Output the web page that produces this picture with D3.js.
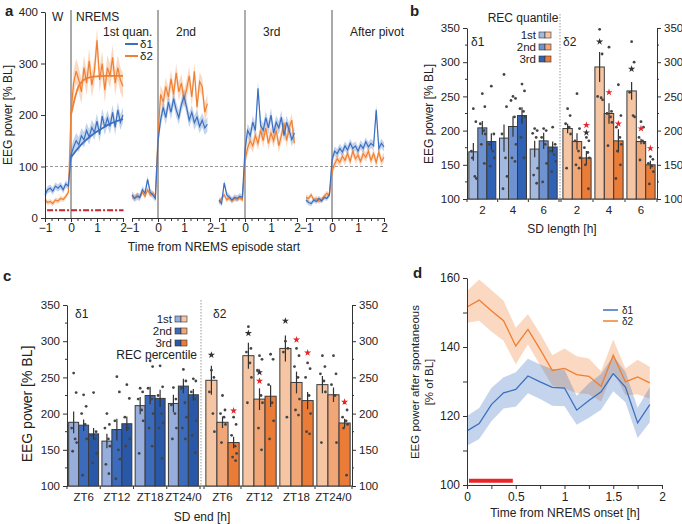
<!DOCTYPE html>
<html><head><meta charset="utf-8">
<script src="https://cdn.jsdelivr.net/npm/d3@7"></script>
<style>
body{margin:0;background:#fff}
svg text{font-family:"Liberation Sans",Arial,sans-serif;fill:#222}
</style></head>
<body><svg width="682" height="524"></svg>
<script>
// ---------------- DATA ----------------
// Panel a: time axis (h from NREMS episode start)
const aTime = [-1,-0.9,-0.8,-0.7,-0.6,-0.5,-0.4,-0.3,-0.2,-0.1,0,0.1,0.2,0.3,0.4,0.5,0.6,0.7,0.8,0.9,1,1.1,1.2,1.3,1.4,1.5,1.6,1.7,1.8,1.9,2];
const aTicksX = [-1,-0.75,-0.5,-0.25,0,0.25,0.5,0.75,1,1.25,1.5,1.75,2];
const aTicksY = [0,100,200,300,400];
const aTitles = ["1st quan.","2nd","3rd","After pivot"];
const a1D1 = [45,55,58,52,62,58,63,55,66,62, 122,138,150,142,160,152,170,157,176,166,188,162,198,176,194,178,205,176,210,186,200];
const a1D2 = [35,30,32,28,35,33,38,36,42,50, 205,262,285,268,245,292,262,305,258,285,345,268,300,248,292,276,312,262,292,268,256];
const a2D1 = [45,38,42,40,55,48,75,50,45,38, 150,190,215,195,225,205,232,210,195,220,236,215,190,205,185,196,178,190,175,182];
const a2D2 = [42,38,45,40,50,42,55,45,48,42, 160,240,225,255,235,270,240,282,245,262,230,250,276,235,285,215,265,255,205,222];
const a3D1 = [35,28,68,45,40,35,40,38,42,40, 132,170,160,186,170,252,180,170,195,175,200,165,186,175,196,160,186,170,152,165];
const a3D2 = [30,38,45,35,40,33,38,36,40,35, 112,136,150,140,160,145,170,150,175,145,165,150,170,140,160,185,150,175,190,145];
const a4D1 = [35,30,28,35,32,38,33,40,38,45, 112,130,125,135,128,140,132,145,135,140,130,142,135,148,138,145,140,210,135,145,138];
const a4D2 = [40,38,45,35,38,32,36,42,48,44, 90,105,115,108,120,112,125,110,130,115,122,110,125,118,130,112,125,108,128,110,118];
// band half-widths [wake, NREMS] per sub-panel
const aSemD1 = [[7,15],[7,14],[6,13],[5,9]];
const aSemD2 = [[5,24],[5,18],[5,13],[5,9]];
// fitted curves, 1st quantile
const aFitT  = [0,0.25,0.5,0.75,1,1.25,1.5,1.75,2];
const aFitD1 = [118,135,148,159,168,176,183,188,192];
const aFitD2 = [200,258,270,274,275,276,276,276,276];
const aSigT = [-0.92,2.02], aSigV = 15;

// Panel b
const bGroups = ["2","4","6"];
const bTicksY = [100,150,200,250,300,350];
const bD1Mean = [[169,204,184],[189,206,222],[173,185,176]];
const bD1Err  = [[13,10,12],[20,15,12],[12,12,8]];
const bD2Mean = [[203,184,160],[293,225,185],[258,184,150]];
const bD2Err  = [[7,12,10],[22,15,17],[13,4,6]];
const bD1Dots = [
  [[232,213,170,133,130,160],[254,235,210,200,195,180,152],[265,195,180,170,160,148]],
  [[282,235,195,160,133,115],[250,247,244,220,180,160,155],[268,258,232,228,220,190,160]],
  [[203,200,196,190,145,135,123],[203,200,190,180,152,125],[205,180,170,165,155,140]]];
const bD2Dots = [
  [[232,222,210,205,195,145],[254,203,185,170,160,150,145],[190,185,175,168,160,150,115]],
  [[348,312,250,248,245],[322,228,225,220,212,178],[267,222,205,190,180,170,150,130]],
  [[330,300,256,222,220],[213,205,190,185,182,157],[162,158,152,148,140,122]]];
// stars: [series, group, quantile, value, red]
const bStars = [[1,0,2,208,1],[1,0,2,197,0],[1,1,0,330,0],[1,1,1,256,1],[1,1,2,210,1],[1,2,0,290,0],[1,2,1,203,1],[1,2,2,174,1]];

// Panel c
const cGroups = ["ZT6","ZT12","ZT18","ZT24/0"];
const cD1Mean = [[188,184,172],[162,178,186],[211,225,221],[214,238,226]];
const cD1Err  = [[15,8,8],[10,15,10],[12,12,12],[12,10,8]];
const cD2Mean = [[246,188,160],[280,220,224],[290,243,218],[240,226,187]];
const cD2Err  = [[20,8,8],[18,15,15],[18,15,12],[12,10,6]];
const cD1Dots = [
  [[256,229,180,165,160,148],[226,210,200,185,165,115],[229,175,170,165,145,132]],
  [[200,185,180,165,155,130,117],[251,230,190,150,137,110],[240,221,195,180,165,155]],
  [[235,230,220,205,190,145],[273,265,235,220,200,180,155],[266,237,225,200,187,180,138]],
  [[236,220,212,200,180,165],[261,245,235,215,195,180,165],[248,245,230,220,190,170,146]]];
const cD2Dots = [
  [[260,250,230,200,175],[225,205,200,195,185,160],[195,185,170,155,145,140,135]],
  [[320,290,285,270,250,215],[280,275,260,225,215,180,150],[282,275,240,215,190,165]],
  [[300,290,285,195],[290,280,265,250,220,205,198],[270,262,250,225,200,175,172]],
  [[280,265,255,245,230,160],[280,255,240,225,160],[215,205,195,190,185,180,115]]];
const cStars = [[1,0,0,281,0],[1,0,2,204,1],[1,1,0,311,0],[1,1,1,257,0],[1,1,1,245,1],[1,2,0,328,0],[1,2,1,302,1],[1,2,2,284,1],[1,3,2,216,1]];

// Panel d
const dTime = [0,0.125,0.25,0.375,0.5,0.625,0.75,0.875,1,1.125,1.25,1.375,1.5,1.625,1.75,1.875];
const dD1    = [115.7,117.8,123.3,126.7,127.7,131.6,129.9,128.3,128.1,121.7,124.5,127.0,132.3,128.4,118.0,123.3];
const dD1Sem = [4.3,4.5,4.8,4.5,5,5,5,5.3,5.3,4.2,5,5.2,5.1,4.4,4.4,5.1];
const dD2    = [151.6,153.6,150.5,147.6,140.3,145.1,139.3,133.2,133.8,132,131.5,128.6,137.6,129.9,131.3,129.6];
const dD2Sem = [4.6,6,6,5.8,5.3,4.4,4.6,4.4,5.8,5.3,5.2,4.4,4.6,3.9,5,4.6];
const dTicksX = [0,0.25,0.5,0.75,1,1.25,1.5,1.75,2];
const dTicksY = [100,110,120,130,140,150,160];
const dSig = [0.02,0.47], dSigV = 101.2;

// ---------------- DRAWING ----------------
const svg = d3.select("svg");
const FONT = '"Liberation Sans", Arial, sans-serif';
const BLUE = "#3b6fc0", ORANGE = "#f07f31", RED = "#e8262a";
const bBlue = ["#a3b9e0","#6f93d0","#2f62b4"];
const cBlue = ["#97addb","#3c6bbc","#2a58a8"];
const oran  = ["#f6c6a4","#f0a676","#eb7c38"];
const starPath = d3.symbol(d3.symbolStar, 16)();

function label(x, y, s, o = {}) {
  const t = svg.append("text").attr("x", x).attr("y", y).text(s)
    .attr("font-size", o.size || 12).attr("text-anchor", o.anchor || "start");
  if (o.weight) t.attr("font-weight", o.weight);
  if (o.fill) t.style("fill", o.fill);
  if (o.rot) t.attr("transform", `rotate(-90,${x},${y})`);
  return t;
}
function styleAxis(g, size) {
  g.attr("font-family", FONT);
  g.select(".domain").attr("stroke", "#333");
  g.selectAll(".tick line").attr("stroke", "#333");
  g.selectAll(".tick text").attr("font-size", size || 11.5).style("fill", "#222");
}
const isInt = d => Math.abs(d - Math.round(d)) < 1e-9;

// ===== Panel a =====
const aStarts = [45,132,219,306];
const aY = d3.scaleLinear().domain([0,400]).range([218,12]);
const aSubs = [[a1D1,a1D2],[a2D1,a2D2],[a3D1,a3D2],[a4D1,a4D2]];
svg.append("line").attr("x1",45).attr("x2",384).attr("y1",aY(100)).attr("y2",aY(100))
  .attr("stroke","#999").attr("stroke-dasharray","3,2").attr("stroke-width",1);
aSubs.forEach((pair, i) => {
  const x = d3.scaleLinear().domain([-1,2]).range([aStarts[i], aStarts[i] + 78]);
  svg.append("line").attr("x1",x(0)).attr("x2",x(0)).attr("y1",10).attr("y2",218)
    .attr("stroke", i === 2 ? "#9a9a9a" : "#555").attr("stroke-width", i === 2 ? 1.6 : 1);
  const sems = [aSemD1[i], aSemD2[i]];
  const cols = [BLUE, ORANGE];
  const semOf = (k, j) => aTime[j] < 0 ? sems[k][0] : sems[k][1];
  [1,0].forEach(k => {
    const vals = pair[k];
    const area = d3.area().x((d,j) => x(aTime[j]))
      .y0((d,j) => aY(d - semOf(k,j))).y1((d,j) => aY(d + semOf(k,j)));
    svg.append("path").attr("d", area(vals)).attr("fill", cols[k]).attr("opacity", 0.3);
  });
  [1,0].forEach(k => {
    const vals = pair[k];
    const line = d3.line().x((d,j) => x(aTime[j])).y(d => aY(d));
    svg.append("path").attr("d", line(vals)).attr("fill","none").attr("stroke", cols[k]).attr("stroke-width", 1.2);
  });
  if (i === 0) {
    const fl = d3.line().x((d,j) => x(aFitT[j])).y(d => aY(d)).curve(d3.curveBasis);
    svg.append("path").attr("d", fl(aFitD2)).attr("fill","none").attr("stroke", ORANGE).attr("stroke-width", 1.8);
    svg.append("path").attr("d", fl(aFitD1)).attr("fill","none").attr("stroke", BLUE).attr("stroke-width", 1.8);
    svg.append("line").attr("x1", x(aSigT[0])).attr("x2", x(aSigT[1])).attr("y1", aY(aSigV)).attr("y2", aY(aSigV))
      .attr("stroke","#c1272d").attr("stroke-width",2).attr("stroke-dasharray","6,2,2,2");
  }
  const ax = d3.axisBottom(x).tickValues(aTicksX).tickSize(3).tickSizeOuter(0)
    .tickFormat(d => isInt(d) ? d3.format("d")(d) : "");
  const g = svg.append("g").attr("transform","translate(0,218)").call(ax);
  styleAxis(g, 12);
  g.selectAll(".tick line").attr("y2", d => isInt(d) ? 4 : 3);
  g.selectAll(".tick text").attr("dy","0.75em").attr("y", 5);
  label(i === 0 ? 103 : x(0) + 18, 36, aTitles[i], {size: 12});
});
{
  const g = svg.append("g").attr("transform","translate(45,0)")
    .call(d3.axisLeft(aY).tickValues(aTicksY).tickSize(4).tickSizeOuter(0));
  styleAxis(g, 11.5);
}
label(5, 16, "a", {size: 15, weight: "bold"});
label(52, 21, "W", {size: 12});
label(76, 21, "NREMS", {size: 12});
label(12, 115, "EEG power [% BL]", {size: 12, anchor: "middle", rot: true});
label(214, 251, "Time from NREMS episode start", {size: 12, anchor: "middle"});
[[BLUE,44,"δ1"],[ORANGE,56,"δ2"]].forEach(([c,y,s]) => {
  svg.append("line").attr("x1",125).attr("x2",138).attr("y1",y).attr("y2",y).attr("stroke",c).attr("stroke-width",2);
  label(140, y + 4, s, {size: 11.5});
});

// ===== bar panels (b, c) =====
function barPanel(cfg) {
  const y = d3.scaleLinear().domain([100,350]).range([cfg.yB, cfg.yT]);
  const xAxisY = cfg.yB;
  svg.append("line").attr("x1", cfg.xL).attr("x2", cfg.xR).attr("y1", xAxisY).attr("y2", xAxisY).attr("stroke","#333");
  cfg.series.forEach((ser, si) => {
    const xg = d3.scaleBand().domain(cfg.groups).range(ser.range).paddingInner(cfg.pi).paddingOuter(cfg.po);
    const xq = d3.scaleBand().domain([0,1,2]).range([0, xg.bandwidth()]);
    const pos = (gi, q) => xg(cfg.groups[gi]) + xq(q);
    const step = xg.step(), gap = step - xg.bandwidth();
    const tx = [ser.range[0]];
    cfg.groups.forEach((g, gi) => { if (gi > 0) tx.push(xg(g) - gap / 2); });
    tx.push(ser.range[1]);
    tx.forEach(t => svg.append("line").attr("x1",t).attr("x2",t).attr("y1",xAxisY).attr("y2",xAxisY+3).attr("stroke","#333"));
    cfg.groups.forEach((g, gi) => {
      [0,1,2].forEach(q => {
        const m = ser.mean[gi][q];
        svg.append("rect").attr("x", pos(gi,q)).attr("width", xq.bandwidth())
          .attr("y", y(m)).attr("height", y(100) - y(m))
          .attr("fill", ser.colors[q]).attr("stroke", "#3a3a3a").attr("stroke-width", 1);
      });
      label(xg(g) + xg.bandwidth() / 2, xAxisY + 15, g, {size: cfg.tickSize, anchor: "middle"});
    });
    cfg.groups.forEach((g, gi) => {
      [0,1,2].forEach(q => {
        const m = ser.mean[gi][q], e = ser.err[gi][q];
        const cx = pos(gi,q) + xq.bandwidth() / 2;
        svg.append("line").attr("x1",cx).attr("x2",cx).attr("y1",y(m-e)).attr("y2",y(m+e))
          .attr("stroke","#333").attr("stroke-width",1.2);
        const offs = [0,2.5,-2,1.5,3,-1,2,-2.5];
        ser.dots[gi][q].forEach((v, k) => {
          svg.append("circle").attr("cx", cx + offs[k % offs.length]).attr("cy", y(v)).attr("r", 1.4).attr("fill","#444");
        });
      });
    });
    cfg.stars.filter(s => s[0] === si).forEach(s => {
      const cx = pos(s[1], s[2]) + xq.bandwidth() / 2;
      svg.append("path").attr("d", starPath).attr("transform", `translate(${cx},${y(s[3])})`)
        .attr("fill", s[4] ? RED : "#333");
    });
  });
  svg.append("line").attr("x1", cfg.sep).attr("x2", cfg.sep).attr("y1", cfg.sepTop).attr("y2", cfg.yB)
    .attr("stroke","#999").attr("stroke-dasharray","1.5,1.5");
  const gl = svg.append("g").attr("transform",`translate(${cfg.xL},0)`)
    .call(d3.axisLeft(y).tickValues(bTicksY).tickSize(4).tickSizeOuter(0));
  styleAxis(gl, cfg.tickSize);
  const gr = svg.append("g").attr("transform",`translate(${cfg.xR},0)`)
    .call(d3.axisRight(y).tickValues(bTicksY).tickSize(4).tickSizeOuter(0));
  styleAxis(gr, cfg.tickSize);
  const minor = [125,175,225,275,325];
  [[cfg.xL,-2],[cfg.xR,2]].forEach(([xx,d]) => minor.forEach(v =>
    svg.append("line").attr("x1",xx).attr("x2",xx+d).attr("y1",y(v)).attr("y2",y(v)).attr("stroke","#333")));
  return y;
}

// Panel b
barPanel({
  groups: bGroups, yB: 199, yT: 28, xL: 467, xR: 657, pi: 0.12, po: 0.06, tickSize: 11.5,
  sep: 560, sepTop: 14,
  series: [
    {range:[467,559], mean:bD1Mean, err:bD1Err, dots:bD1Dots, colors:bBlue},
    {range:[561,657], mean:bD2Mean, err:bD2Err, dots:bD2Dots, colors:oran}],
  stars: bStars
});
label(410, 16, "b", {size: 15, weight: "bold"});
label(523, 22, "REC quantile", {size: 12, anchor: "middle"});
label(471, 46, "δ1", {size: 12});
label(563, 46, "δ2", {size: 12});
["1st","2nd","3rd"].forEach((s, q) => {
  const yy = 35 + q * 12;
  label(536, yy + 4, s, {size: 11.5, anchor: "end"});
  svg.append("rect").attr("x",539).attr("y",yy-3).attr("width",6).attr("height",6).attr("fill",bBlue[q]).attr("stroke","#333").attr("stroke-width",0.6);
  svg.append("rect").attr("x",545).attr("y",yy-3).attr("width",6).attr("height",6).attr("fill",oran[q]).attr("stroke","#333").attr("stroke-width",0.6);
});
label(433, 114, "EEG power [% BL]", {size: 12, anchor: "middle", rot: true});
label(562, 233, "SD length [h]", {size: 12, anchor: "middle"});

// Panel c
barPanel({
  groups: cGroups, yB: 486, yT: 305, xL: 67, xR: 352, pi: 0.1, po: 0.05, tickSize: 11.5,
  sep: 201, sepTop: 300,
  series: [
    {range:[67,200], mean:cD1Mean, err:cD1Err, dots:cD1Dots, colors:cBlue},
    {range:[204,352], mean:cD2Mean, err:cD2Err, dots:cD2Dots, colors:oran}],
  stars: cStars
});
label(3, 281, "c", {size: 15, weight: "bold"});
label(75, 318, "δ1", {size: 12});
label(213, 318, "δ2", {size: 12});
["1st","2nd","3rd"].forEach((s, q) => {
  const yy = 319 + q * 12;
  label(172, yy + 4, s, {size: 11.5, anchor: "end"});
  svg.append("rect").attr("x",175).attr("y",yy-3).attr("width",6).attr("height",6).attr("fill",cBlue[q]).attr("stroke","#333").attr("stroke-width",0.6);
  svg.append("rect").attr("x",181).attr("y",yy-3).attr("width",6).attr("height",6).attr("fill",oran[q]).attr("stroke","#333").attr("stroke-width",0.6);
});
label(197, 359, "REC percentile", {size: 12, anchor: "end"});
label(32, 404, "EEG power [% BL]", {size: 14, anchor: "middle", rot: true});
label(202, 521, "SD end [h]", {size: 12, anchor: "middle"});

// ===== Panel d =====
{
  const x = d3.scaleLinear().domain([0,2]).range([467,662]);
  const y = d3.scaleLinear().domain([100,160]).range([485,278]);
  const series = [[dD2, dD2Sem, ORANGE],[dD1, dD1Sem, BLUE]];
  series.forEach(([v, s, c]) => {
    const area = d3.area().x((d,j) => x(dTime[j])).y0((d,j) => y(d - s[j])).y1((d,j) => y(d + s[j]));
    svg.append("path").attr("d", area(v)).attr("fill", c).attr("opacity", 0.3);
  });
  series.forEach(([v, s, c]) => {
    const line = d3.line().x((d,j) => x(dTime[j])).y(d => y(d));
    svg.append("path").attr("d", line(v)).attr("fill","none").attr("stroke", c).attr("stroke-width", 1.3);
  });
  svg.append("line").attr("x1", x(dSig[0])).attr("x2", x(dSig[1])).attr("y1", y(dSigV)).attr("y2", y(dSigV))
    .attr("stroke", RED).attr("stroke-width", 4);
  const gx = svg.append("g").attr("transform","translate(0,485)")
    .call(d3.axisBottom(x).tickValues(dTicksX).tickSize(4).tickSizeOuter(0)
      .tickFormat(d => (Math.abs(d*2 - Math.round(d*2)) < 1e-9) ? d3.format("")(d) : ""));
  styleAxis(gx, 12);
  const gy = svg.append("g").attr("transform","translate(467,0)")
    .call(d3.axisLeft(y).tickValues(dTicksY).tickSize(4).tickSizeOuter(0)
      .tickFormat(d => d % 20 === 0 ? d : ""));
  styleAxis(gy, 12);
  label(413, 278, "d", {size: 15, weight: "bold"});
  label(419, 382, "EEG power after spontaneous", {size: 11.5, anchor: "middle", rot: true});
  label(433, 382, "[% of BL]", {size: 11.5, anchor: "middle", rot: true});
  label(565, 517, "Time from NREMS onset [h]", {size: 12, anchor: "middle"});
  [[BLUE,310,"δ1"],[ORANGE,321,"δ2"]].forEach(([c,yy,s]) => {
    svg.append("line").attr("x1",603).attr("x2",618).attr("y1",yy).attr("y2",yy).attr("stroke",c).attr("stroke-width",1.5);
    label(622, yy + 3.5, s, {size: 10});
  });
}
</script></body></html>
